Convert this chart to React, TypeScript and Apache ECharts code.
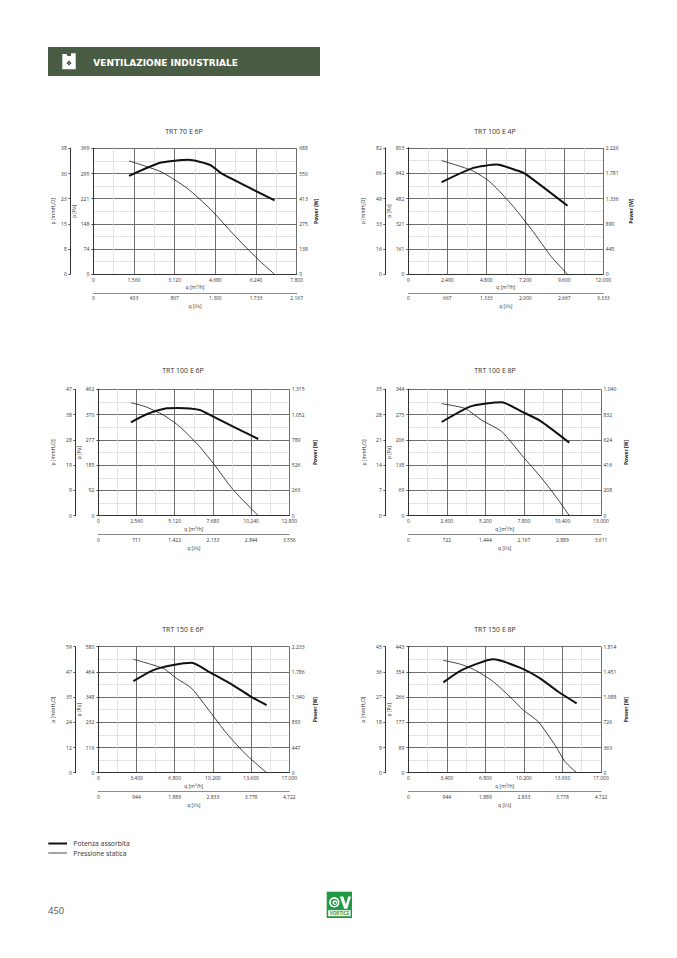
import React, { useEffect, useRef } from "react";
import * as echarts from "echarts";

// ---------- DATA ----------
const titles = ["TRT 70 E 6P", "TRT 100 E 4P", "TRT 100 E 6P", "TRT 100 E 8P", "TRT 150 E 6P", "TRT 150 E 8P"];

const qMax = [7800, 12000, 12800, 13000, 17000, 17000];
const paMax = [369, 803, 462, 344, 580, 443];
const wMax = [688, 2226, 1315, 1040, 2233, 1814];

const qTicks = [
  ["0", "1.560", "3.120", "4.680", "6.240", "7.800"],
  ["0", "2.400", "4.800", "7.200", "9.600", "12.000"],
  ["0", "2.560", "5.120", "7.680", "10.240", "12.800"],
  ["0", "2.600", "5.200", "7.800", "10.400", "13.000"],
  ["0", "3.400", "6.800", "10.200", "13.600", "17.000"],
  ["0", "3.400", "6.800", "10.200", "13.600", "17.000"],
];
const lsTicks = [
  ["0", "433", "867", "1.300", "1.733", "2.167"],
  ["0", "667", "1.333", "2.000", "2.667", "3.333"],
  ["0", "711", "1.422", "2.133", "2.844", "3.556"],
  ["0", "722", "1.444", "2.167", "2.889", "3.611"],
  ["0", "944", "1.889", "2.833", "3.778", "4.722"],
  ["0", "944", "1.889", "2.833", "3.778", "4.722"],
];
const paTicks = [
  ["0", "74", "148", "221", "295", "369"],
  ["0", "161", "321", "482", "642", "803"],
  ["0", "92", "185", "277", "370", "462"],
  ["0", "69", "138", "206", "275", "344"],
  ["0", "116", "232", "348", "464", "580"],
  ["0", "89", "177", "266", "354", "443"],
];
const mmTicks = [
  ["0", "8", "15", "23", "30", "38"],
  ["0", "16", "33", "49", "66", "82"],
  ["0", "9", "19", "28", "38", "47"],
  ["0", "7", "14", "21", "28", "35"],
  ["0", "12", "24", "35", "47", "59"],
  ["0", "9", "18", "27", "36", "45"],
];
const wTicks = [
  ["0", "138", "275", "413", "550", "688"],
  ["0", "445", "890", "1.336", "1.781", "2.226"],
  ["0", "263", "526", "789", "1.052", "1.315"],
  ["0", "208", "416", "624", "832", "1.040"],
  ["0", "447", "893", "1.340", "1.786", "2.233"],
  ["0", "363", "726", "1.088", "1.451", "1.814"],
];

// static pressure [q m3/h, Pa]
const pressure70e6p = [[1370, 332], [2600, 300], [3600, 252], [4500, 190], [5400, 115], [6300, 45], [6950, 0]];
const pressure100e4p = [[2050, 723], [3900, 661], [4900, 598], [5550, 535], [6550, 420], [7600, 282], [8800, 112], [9800, 0]];
const pressure100e6p = [[2190, 413], [3130, 399], [4360, 368], [5470, 325], [6700, 258], [7710, 191], [9050, 94], [10720, 0]];
const pressure100e8p = [[2250, 305], [3820, 292], [4950, 260], [6300, 229], [7650, 165], [9000, 102], [10120, 43], [10860, 0]];
const pressure150e6p = [[3120, 522], [5790, 480], [6970, 434], [8310, 388], [9940, 281], [11420, 181], [13200, 81], [14980, 0]];
const pressure150e8p = [[3090, 395], [4560, 382], [5880, 361], [7500, 320], [9120, 261], [10150, 220], [11470, 179], [12940, 97], [13820, 39], [14850, 0]];

// absorbed power [q m3/h, W]
const power70e6p = [[1370, 537], [2600, 610], [3650, 625], [4480, 597], [4950, 548], [6950, 404]];
const power100e4p = [[2050, 1623], [4000, 1875], [5450, 1933], [6650, 1834], [7200, 1770], [9800, 1207]];
const power100e6p = [[2190, 972], [3240, 1055], [4580, 1117], [5360, 1121], [6810, 1100], [7480, 1048], [9270, 909], [10720, 798]];
const power100e8p = [[2250, 771], [4160, 897], [5400, 925], [6300, 933], [7650, 856], [8880, 782], [10860, 601]];
const power150e6p = [[3120, 1624], [4900, 1819], [6680, 1908], [8310, 1949], [9940, 1778], [11720, 1583], [13500, 1359], [14980, 1199]];
const power150e8p = [[3090, 1301], [4710, 1478], [7500, 1632], [9850, 1512], [11620, 1358], [13240, 1166], [14850, 998]];

const pressureSets = [pressure70e6p, pressure100e4p, pressure100e6p, pressure100e8p, pressure150e6p, pressure150e8p];
const powerSets = [power70e6p, power100e4p, power100e6p, power100e8p, power150e6p, power150e8p];

const legendLabels = ["Potenza assorbita", "Pressione statica"];

// ---------- LAYOUT ----------
const boxes = [
  { left: 93.3, top: 148.3, width: 203.4, height: 126, cx: 184, ty: 131 },
  { left: 408.3, top: 148, width: 195, height: 126.3, cx: 495, ty: 131 },
  { left: 98.3, top: 389.3, width: 191, height: 126.4, cx: 183, ty: 370 },
  { left: 408.3, top: 389.3, width: 192.7, height: 126.4, cx: 495, ty: 370 },
  { left: 98.3, top: 646.7, width: 191, height: 126, cx: 183, ty: 629.5 },
  { left: 408.3, top: 646.7, width: 192.7, height: 126, cx: 495, ty: 629.5 },
];
const gaps = [
  { mm: 15.3, pa: 13.6, w: 16.3 },
  { mm: 19.4, pa: 13.6, w: 24.7 },
  { mm: 20, pa: 15, w: 22.7 },
  { mm: 18.7, pa: 13.6, w: 22.7 },
  { mm: 20, pa: 13.6, w: 22.7 },
  { mm: 19.4, pa: 13.6, w: 22.7 },
];

const FONT = "'Open Sans', 'Noto Sans', sans-serif";
const TXT = "#333";
const MAJOR = "#6f6f6f";
const MINOR = "#dcdcdc";

const lbl = (ticks: string[], interval: number) => (v: number) => {
  const i = Math.round(v / interval);
  return ticks[i] ?? "";
};

function buildOption() {
  const grid: any[] = [];
  const xAxis: any[] = [];
  const yAxis: any[] = [];
  const series: any[] = [];
  const graphic: any[] = [];

  boxes.forEach((b, i) => {
    grid.push({ left: b.left, top: b.top, width: b.width, height: b.height, containLabel: false });
    const qInt = qMax[i] / 5;
    const lsMax = qMax[i] / 3.6;
    const paInt = paMax[i] / 5;
    const wInt = wMax[i] / 5;
    const mmMax = paMax[i] / 9.80665;
    const mmInt = mmMax / 5;
    const labelStyle = { fontSize: 5, color: TXT, fontFamily: FONT };
    const nameStyle = { fontSize: 5, color: TXT, fontFamily: FONT };

    xAxis.push({
      type: "value", gridIndex: i, position: "bottom", min: 0, max: qMax[i], interval: qInt,
      name: "q [m³/h]", nameLocation: "middle", nameGap: 10.5, nameTextStyle: nameStyle,
      axisLine: { show: true, lineStyle: { color: "#333", width: 1 } },
      axisTick: { show: false },
      axisLabel: { ...labelStyle, margin: 3, formatter: lbl(qTicks[i], qInt) },
      splitLine: { show: true, lineStyle: { color: MAJOR, width: 1 } },
      minorTick: { show: false, splitNumber: 2 },
      minorSplitLine: { show: true, lineStyle: { color: MINOR, width: 0.8 } },
    });
    xAxis.push({
      type: "value", gridIndex: i, position: "bottom", offset: 18.5, min: 0, max: lsMax, interval: lsMax / 5,
      name: "q [l/s]", nameLocation: "middle", nameGap: 11, nameTextStyle: nameStyle,
      axisLine: { show: true, onZero: false, lineStyle: { color: "#8a8a8a", width: 1 } },
      axisTick: { show: false },
      axisLabel: { ...labelStyle, margin: 3, formatter: lbl(lsTicks[i], lsMax / 5) },
      splitLine: { show: false },
    });

    yAxis.push({
      type: "value", gridIndex: i, position: "left", min: 0, max: paMax[i], interval: paInt,
      name: "p [Pa]", nameLocation: "middle", nameGap: gaps[i].pa, nameRotate: 90, nameTextStyle: nameStyle,
      axisLine: { show: true, lineStyle: { color: "#333", width: 1 } },
      axisTick: { show: true, length: 2, lineStyle: { color: "#333", width: 0.8 } },
      axisLabel: { ...labelStyle, margin: 4, formatter: lbl(paTicks[i], paInt) },
      splitLine: { show: true, lineStyle: { color: MAJOR, width: 1 } },
      minorTick: { show: false, splitNumber: 2 },
      minorSplitLine: { show: true, lineStyle: { color: MINOR, width: 0.8 } },
    });
    yAxis.push({
      type: "value", gridIndex: i, position: "right", min: 0, max: wMax[i], interval: wInt,
      name: "Power [W]", nameLocation: "middle", nameGap: gaps[i].w, nameRotate: 90,
      nameTextStyle: { ...nameStyle, fontWeight: "bold", color: "#222" },
      axisLine: { show: true, lineStyle: { color: "#333", width: 1 } },
      axisTick: { show: true, length: 1.5, lineStyle: { color: "#333", width: 0.8 } },
      axisLabel: { ...labelStyle, margin: 2.5, formatter: lbl(wTicks[i], wInt) },
      splitLine: { show: false },
    });
    yAxis.push({
      type: "value", gridIndex: i, position: "left", offset: 23, min: 0, max: mmMax, interval: mmInt,
      name: "p [mmH₂O]", nameLocation: "middle", nameGap: gaps[i].mm, nameRotate: 90, nameTextStyle: nameStyle,
      axisLine: { show: true, onZero: false, lineStyle: { color: "#333", width: 1 } },
      axisTick: { show: true, length: 2, lineStyle: { color: "#333", width: 0.8 } },
      axisLabel: { ...labelStyle, margin: 3.5, formatter: lbl(mmTicks[i], mmInt) },
      splitLine: { show: false },
    });

    series.push({
      type: "line", xAxisIndex: 2 * i, yAxisIndex: 3 * i, data: pressureSets[i],
      showSymbol: false, smooth: 0.2, lineStyle: { color: "#111", width: 0.8 }, z: 3,
    });
    series.push({
      type: "line", xAxisIndex: 2 * i, yAxisIndex: 3 * i + 1, data: powerSets[i],
      showSymbol: false, smooth: 0.2, lineStyle: { color: "#111", width: 2 }, z: 4,
    });

    graphic.push({
      type: "text", x: b.cx, y: b.ty,
      style: { text: titles[i], align: "center", verticalAlign: "middle", fontSize: 7, fill: "#333", fontFamily: FONT },
    });
  });

  // Banner
  graphic.push({ type: "rect", shape: { x: 48, y: 47, width: 272, height: 29 }, style: { fill: "#4a5d44" } });
  graphic.push({
    type: "polygon",
    shape: { points: [[62.3, 54], [66.5, 54], [67.5, 56], [71, 56], [71, 53.3], [75.7, 53.3], [75.7, 69.3], [62.3, 69.3]] },
    style: { fill: "#ffffff" },
  });
  [[-1.3, 0], [1.3, 0], [0, -1.3], [0, 1.3]].forEach(([dx, dy]) => {
    graphic.push({ type: "circle", shape: { cx: 69 + dx, cy: 63 + dy, r: 1.1 }, style: { fill: "#4a5d44" } });
  });
  graphic.push({ type: "circle", shape: { cx: 69, cy: 63, r: 0.5 }, style: { fill: "#ffffff" } });
  graphic.push({
    type: "text", x: 93.3, y: 63,
    style: { text: "VENTILAZIONE INDUSTRIALE", align: "left", verticalAlign: "middle", fontSize: 9, fontWeight: "bold", fill: "#ffffff", fontFamily: "'DejaVu Sans', sans-serif" },
  });

  // Legend
  graphic.push({ type: "line", shape: { x1: 48.3, y1: 843.5, x2: 67, y2: 843.5 }, style: { stroke: "#111", lineWidth: 2 } });
  graphic.push({ type: "line", shape: { x1: 48.3, y1: 853, x2: 67, y2: 853 }, style: { stroke: "#333", lineWidth: 0.9 } });
  graphic.push({
    type: "text", x: 73.3, y: 843.5,
    style: { text: legendLabels[0], align: "left", verticalAlign: "middle", fontSize: 6.8, fill: "#333", fontFamily: FONT },
  });
  graphic.push({
    type: "text", x: 73.3, y: 853,
    style: { text: legendLabels[1], align: "left", verticalAlign: "middle", fontSize: 6.8, fill: "#333", fontFamily: FONT },
  });

  // Page number
  graphic.push({
    type: "text", x: 48, y: 910,
    style: { text: "450", align: "left", verticalAlign: "middle", fontSize: 9.5, fill: "#555", fontFamily: FONT },
  });

  // Logo
  graphic.push({ type: "rect", shape: { x: 326.7, y: 891.7, width: 25.3, height: 26.3 }, style: { fill: "#1f9a42" } });
  graphic.push({ type: "circle", shape: { cx: 334.3, cy: 902.3, r: 5.2 }, style: { fill: "#ffffff" } });
  graphic.push({ type: "circle", shape: { cx: 334.3, cy: 902.3, r: 3.6 }, style: { fill: "#1f9a42" } });
  graphic.push({ type: "circle", shape: { cx: 334.8, cy: 902.6, r: 2.3 }, style: { fill: "#ffffff" } });
  graphic.push({ type: "circle", shape: { cx: 335.2, cy: 902.9, r: 1.1 }, style: { fill: "#1f9a42" } });
  graphic.push({
    type: "polygon",
    shape: { points: [[339.8, 896.5], [343.3, 896.5], [345.8, 904.5], [348.2, 896.5], [351, 896.5], [347.3, 908.8], [344.2, 908.8]] },
    style: { fill: "#ffffff" },
  });
  graphic.push({ type: "rect", shape: { x: 328.2, y: 910.2, width: 22.4, height: 6 }, style: { fill: "#ffffff" } });
  graphic.push({
    type: "text", x: 339.4, y: 913.3,
    style: { text: "VORTICE", align: "center", verticalAlign: "middle", fontSize: 4.6, fontWeight: "bold", fill: "#1f9a42", fontFamily: FONT },
  });

  return {
    animation: false,
    backgroundColor: "#ffffff",
    textStyle: { fontFamily: FONT },
    grid,
    xAxis,
    yAxis,
    series,
    graphic,
  };
}

export default function App() {
  const ref = useRef<HTMLDivElement>(null);
  useEffect(() => {
    if (!ref.current) return;
    const chart = echarts.init(ref.current, undefined, { renderer: "svg" });
    chart.setOption(buildOption() as any);
    return () => chart.dispose();
  }, []);
  return (
    <div
      ref={ref}
      style={{ position: "absolute", left: 0, top: 0, width: 677, height: 958, background: "#fff" }}
    />
  );
}
